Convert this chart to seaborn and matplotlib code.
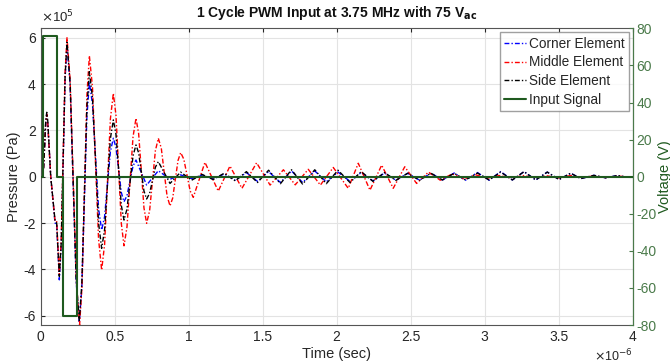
import numpy as np
import pandas as pd
import matplotlib
matplotlib.use("Agg")
import matplotlib.pyplot as plt
import seaborn as sns

# --- data (time in us, pressure in 1e5 Pa, voltage in V) ---
side_t = [0, 0.013, 0.020, 0.027, 0.034, 0.041, 0.048, 0.068, 0.097, 0.108, 0.126,
          0.139, 0.152, 0.165, 0.178, 0.199, 0.2195, 0.240, 0.261, 0.278, 0.295, 0.312,
          0.329, 0.350, 0.3705, 0.391, 0.412, 0.432, 0.4515, 0.471, 0.491, 0.509, 0.527,
          0.545, 0.563, 0.583, 0.6035, 0.624, 0.644, 0.662, 0.680, 0.698, 0.716, 0.736,
          0.7555, 0.775, 0.795, 0.874, 0.946, 1.02, 1.09, 1.165, 1.24, 1.315, 1.39,
          1.465, 1.54, 1.62, 1.695, 1.77, 1.852, 1.93, 2.009, 2.09, 2.166, 2.245, 2.323,
          2.40, 2.48, 2.56, 2.637, 2.715, 2.794, 2.87, 2.951, 3.03, 3.108, 3.187, 3.266,
          3.345, 3.423, 3.502, 3.581, 3.65, 3.738, 3.82, 3.895, 3.97, 4.0]
side_p = [0, 0.0, 0.41, 1.39, 2.37, 2.78, 2.4, 0.0, -1.9, -2.0, -4.3,
          -2.83, 0.75, 4.33, 5.8, 4.05, -0.2, -4.45, -6.2, -4.63, -0.84, 2.96,
          4.53, 3.42, 0.72, -1.98, -3.09, -2.28, -0.32, 1.64, 2.45, 1.82, 0.29,
          -1.24, -1.87, -1.40, -0.25, 0.90, 1.37, 1.03, 0.21, -0.62, -0.96, -0.72,
          -0.16, 0.41, 0.65, -0.29, 0.2, -0.15, 0.1, -0.12, 0.15, -0.18, 0.22,
          -0.25, 0.28, -0.3, 0.3, -0.32, 0.3, -0.3, 0.28, -0.25, 0.22, -0.2, 0.18,
          -0.16, 0.15, -0.15, 0.15, -0.14, 0.15, -0.14, 0.16, -0.14, 0.2, -0.14, 0.22,
          -0.14, 0.2, -0.12, 0.15, -0.08, 0.06, -0.05, 0.05, -0.03, 0.0]

middle_t = [0, 0.013, 0.020, 0.027, 0.034, 0.041, 0.048, 0.068, 0.097, 0.108, 0.126,
            0.139, 0.152, 0.165, 0.178, 0.199, 0.2205, 0.242, 0.263, 0.2795, 0.296, 0.3125,
            0.329, 0.350, 0.3705, 0.391, 0.412, 0.432, 0.4515, 0.471, 0.491, 0.509, 0.527,
            0.545, 0.563, 0.583, 0.6035, 0.624, 0.644, 0.662, 0.680, 0.698, 0.716, 0.736,
            0.7555, 0.775, 0.795, 0.815, 0.8345, 0.854, 0.874, 0.892, 0.910, 0.928, 0.946,
            0.967, 0.9885, 1.01, 1.031, 1.11, 1.2, 1.279, 1.36, 1.459, 1.55, 1.64, 1.72,
            1.808, 1.89, 1.977, 2.078, 2.146, 2.225, 2.304, 2.382, 2.46, 2.54, 2.62, 2.70,
            2.78, 2.86, 2.94, 3.02, 3.10, 3.18, 3.26, 3.34, 3.42, 3.50, 3.58, 3.66, 3.74,
            3.82, 3.90, 3.98, 4.0]
middle_p = [0, 0.0, 0.40, 1.35, 2.3, 2.7, 2.3, 0.0, -1.9, -1.9, -4.2,
            -2.71, 0.9, 4.51, 6.0, 4.19, -0.2, -4.59, -6.4, -4.70, -0.59, 3.52,
            5.22, 3.87, 0.6, -2.68, -4.03, -2.92, -0.22, 2.49, 3.6, 2.64, 0.31,
            -2.02, -2.98, -2.18, -0.23, 1.72, 2.52, 1.86, 0.26, -1.35, -2.01, -1.47,
            -0.18, 1.12, 1.66, 1.23, 0.2, -0.83, -1.26, -0.92, -0.11, 0.70, 1.04,
            0.76, 0.08, -0.61, -0.89, 0.62, -0.62, 0.46, -0.5, 0.6, -0.36, 0.3, -0.35,
            0.32, -0.36, 0.4, -0.5, 0.58, -0.58, 0.5, -0.5, 0.43, -0.29, 0.2, -0.15,
            0.12, -0.1, 0.08, -0.06, 0.05, -0.05, 0.05, -0.04, 0.04, -0.05, 0.05, -0.04,
            0.04, -0.04, 0.03, -0.02, 0.0]

corner_t = [0, 0.013, 0.020, 0.027, 0.034, 0.041, 0.048, 0.068, 0.097, 0.108, 0.126,
            0.139, 0.152, 0.165, 0.178, 0.199, 0.2195, 0.240, 0.261, 0.278, 0.295, 0.312,
            0.329, 0.350, 0.3705, 0.391, 0.412, 0.432, 0.4515, 0.471, 0.491, 0.509, 0.527,
            0.545, 0.563, 0.583, 0.6035, 0.624, 0.644, 0.716, 0.795, 0.874, 0.946, 1.02,
            1.09, 1.165, 1.24, 1.315, 1.39, 1.465, 1.54, 1.62, 1.695, 1.77, 1.852, 1.93,
            2.009, 2.09, 2.166, 2.245, 2.323, 2.40, 2.48, 2.56, 2.637, 2.715, 2.794, 2.87,
            2.951, 3.03, 3.108, 3.187, 3.266, 3.345, 3.423, 3.502, 3.581, 3.65, 3.738,
            3.82, 3.895, 3.97, 4.0]
corner_p = [0, 0.0, 0.40, 1.35, 2.3, 2.7, 2.3, 0.0, -2.0, -2.05, -4.45,
            -2.97, 0.63, 4.22, 5.7, 3.95, -0.3, -4.55, -6.3, -4.79, -1.12, 2.56,
            4.07, 3.14, 0.89, -1.37, -2.3, -1.72, -0.32, 1.08, 1.66, 1.26, 0.29,
            -0.68, -1.08, -0.82, -0.18, 0.46, 0.72, -0.36, 0.26, -0.11, 0.08, -0.08,
            0.08, -0.1, 0.12, -0.15, 0.18, -0.2, 0.22, -0.25, 0.25, -0.25, 0.25, -0.22,
            0.2, -0.2, 0.18, -0.18, 0.16, -0.15, 0.15, -0.15, 0.15, -0.14, 0.16, -0.15,
            0.18, -0.15, 0.22, -0.14, 0.22, -0.14, 0.2, -0.12, 0.15, -0.08, 0.06,
            -0.05, 0.05, -0.03, 0.0]

input_t = [0, 0.018, 0.108, 0.153, 0.245, 4.0]
input_v = [0, 76, 0, -75, 0, 0]

x_ticks = [0, 0.5, 1, 1.5, 2, 2.5, 3, 3.5, 4]
p_ticks = [-6, -4, -2, 0, 2, 4, 6]
v_ticks = [-80, -60, -40, -20, 0, 20, 40, 60, 80]

sns.set_style("white")
plt.rcParams['font.family'] = ['Liberation Sans', 'DejaVu Sans']
plt.rcParams['axes.unicode_minus'] = False

AX_COL = "#262626"
GREEN = "#1f5a1f"
GREEN_AX = "#4a7a4a"

fig = plt.figure(figsize=(6.70, 3.64), dpi=100)
ax1 = fig.add_axes([0.0607, 0.107, 0.8836, 0.815])

series = [("Corner Element", corner_t, corner_p, "blue"),
          ("Middle Element", middle_t, middle_p, "red"),
          ("Side Element", side_t, side_p, "black")]
handles = []
for name, t, p, col in series:
    d = pd.DataFrame({"t": t, "p": p})
    sns.lineplot(data=d, x="t", y="p", ax=ax1, color=col, lw=1.0,
                 sort=False, estimator=None, label=name, legend=False)
    ax1.lines[-1].set_dashes((3.5, 1.5, 1, 1.5))
    handles.append(ax1.lines[-1])

ax1.set_xlim(0, 4)
ax1.set_ylim(-6.4, 6.4)
ax1.set_xticks(x_ticks)
ax1.set_xticklabels([f"{v:g}" for v in x_ticks])
ax1.set_yticks(p_ticks)
ax1.set_yticklabels([f"{v:g}" for v in p_ticks])
ax1.grid(True, color="#e3e3e3", lw=0.8)
ax1.tick_params(axis="both", direction="in", labelsize=10, colors=AX_COL, length=3,
                top=True, right=False)
ax1.set_xlabel("Time (sec)", fontsize=10.5, color=AX_COL, labelpad=2)
ax1.set_ylabel("Pressure (Pa)", fontsize=10.5, color=AX_COL, labelpad=2)
for s in ["left", "top", "bottom"]:
    ax1.spines[s].set_color("#555555")
    ax1.spines[s].set_linewidth(0.8)
ax1.text(0.0, 1.012, r"$\times$10$^{5}$", transform=ax1.transAxes, fontsize=9.5,
         color=AX_COL, ha="left", va="bottom")
ax1.text(1.0, -0.078, r"$\times$10$^{-6}$", transform=ax1.transAxes, fontsize=9,
         color=AX_COL, ha="right", va="top")

ax2 = ax1.twinx()
d = pd.DataFrame({"t": input_t, "v": input_v})
sns.lineplot(data=d, x="t", y="v", ax=ax2, color=GREEN, lw=1.5, drawstyle="steps-post",
             sort=False, estimator=None, legend=False)
handles.append(ax2.lines[-1])
ax2.set_ylim(-80, 80)
ax2.set_yticks(v_ticks)
ax2.set_yticklabels([f"{v:g}" for v in v_ticks])
ax2.tick_params(axis="y", direction="in", labelsize=10, colors=GREEN_AX, length=3, pad=2.5)
ax2.spines["right"].set_color(GREEN_AX)
ax2.spines["right"].set_linewidth(0.8)
for s in ["left", "top", "bottom"]:
    ax2.spines[s].set_visible(False)
ax2.set_ylabel("Voltage (V)", fontsize=10.5, color=GREEN)
ax2.yaxis.set_label_coords(1.042, 0.5)

ax2.legend(handles, ["Corner Element", "Middle Element", "Side Element", "Input Signal"],
           loc="upper right", fontsize=9.8, frameon=True, fancybox=False,
           edgecolor="#888888", borderpad=0.3, labelspacing=0.35, handlelength=1.6,
           handletextpad=0.2, borderaxespad=0.3)

ax1.set_title(r"1 Cycle PWM Input at 3.75 MHz with 75 V$_{\mathbf{ac}}$", fontsize=10,
              fontweight="bold", color="#111111", pad=8)

fig.savefig("out.png", dpi=100)
